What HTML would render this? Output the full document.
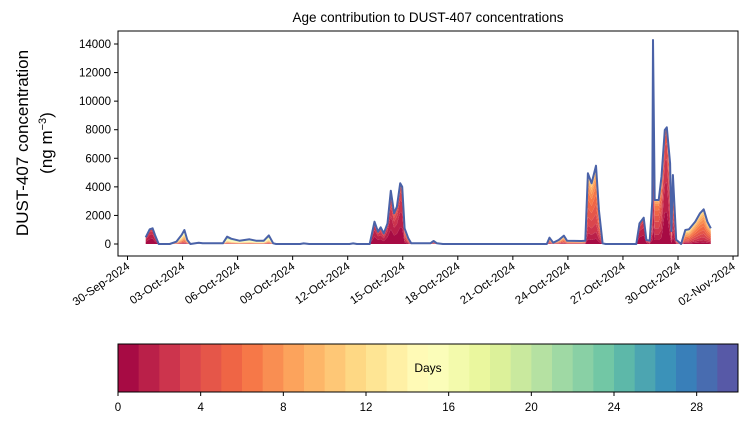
<!DOCTYPE html>
<html><head><meta charset="utf-8"><style>
body{margin:0;background:#fff}
svg{display:block;font-family:"Liberation Sans","DejaVu Sans",sans-serif}
</style></head><body>
<svg id="fig" width="748" height="425" viewBox="0 0 748 425" xmlns="http://www.w3.org/2000/svg">
<text x="428" y="22" text-anchor="middle" font-size="13.5">Age contribution to DUST-407 concentrations</text>
<g id="plot"></g>
<rect x="118" y="31" width="620" height="225" fill="none" stroke="#000" stroke-width="1"/>
<g id="yaxis"></g>
<g id="xaxis"></g>
<text transform="translate(28,143) rotate(-90)" text-anchor="middle" font-size="17">DUST-407 concentration</text>
<text transform="translate(52,143) rotate(-90)" text-anchor="middle" font-size="17">(ng m<tspan baseline-shift="super" font-size="11">−3</tspan>)</text>
<g id="cbar"></g>
</svg>
<script>
const dayTicks=[0,3,6,9,12,15,18,21,24,27,30,33];
const dayTickLabels=["30-Sep-2024","03-Oct-2024","06-Oct-2024","09-Oct-2024","12-Oct-2024","15-Oct-2024","18-Oct-2024","21-Oct-2024","24-Oct-2024","27-Oct-2024","30-Oct-2024","02-Nov-2024"];
const yTicks=[0,2000,4000,6000,8000,10000,12000,14000];
const cbarTicks=[0,4,8,12,16,20,24,28];
const times=[0.99,1.21,1.37,1.5,1.7,2.3,2.66,2.95,3.1,3.26,3.43,3.88,4.1,5.2,5.43,5.65,6.1,6.65,7.0,7.43,7.7,7.94,8.1,9.4,9.6,9.9,12.1,12.3,12.5,13.2,13.46,13.65,13.8,13.97,14.17,14.35,14.53,14.68,14.86,14.97,15.1,15.3,15.46,16.5,16.68,16.86,17.19,22.85,23.0,23.2,23.5,23.78,23.95,24.73,24.95,25.09,25.29,25.53,25.69,25.89,26.06,27.73,27.9,28.13,28.28,28.46,28.6,28.64,28.73,28.95,29.1,29.28,29.39,29.57,29.64,29.72,29.9,30.17,30.4,30.6,30.94,31.2,31.4,31.6,31.79];
const total=[470,1030,1100,630,0,0,160,630,980,280,0,90,50,50,510,370,230,330,230,230,600,50,0,0,40,0,0,40,0,0,1560,860,1170,750,1450,3730,2150,2610,4250,4010,1100,400,50,50,210,50,0,0,440,90,280,580,230,210,230,4950,4250,5480,2380,50,0,0,1450,1840,280,230,3000,14280,3080,3080,4710,7980,8170,5650,900,4830,300,0,980,1030,1560,2150,2430,1560,1100];
const peakAge=[1,1,1,2,2,5,9,9,9,9,9,12,12,12,13,13,13,13,13,13,12,12,12,14,14,14,14,14,14,2,1,1,2,2,1,2,2,2,2,2,3,4,6,6,4,4,4,6,6,6,6,6,6,6,5,4,4,4,4,4,4,2,1,1,2,3,3,3,3,3,3,2,2,3,3,3,4,5,6,6,5,5,5,5,5];

const X0=118,X1=738,Y0=31,Y1=256;
const px=d=>127.5+d*18.35;
const py=v=>244-v*(200/14000);
const NS='http://www.w3.org/2000/svg';
function mk(t,a,p){const e=document.createElementNS(NS,t);for(const k in a)e.setAttribute(k,a[k]);(p||document.getElementById('fig')).appendChild(e);return e;}
const spec=["#9e0142","#d53e4f","#f46d43","#fdae61","#fee08b","#ffffbf","#e6f598","#abdda4","#66c2a5","#3288bd","#5e4fa2"];
function hx(c){return [1,3,5].map(i=>parseInt(c.substr(i,2),16));}
function cmap(t){const s=t*10,i=Math.min(9,Math.floor(s)),f=s-i;const a=hx(spec[i]),b=hx(spec[i+1]);return 'rgb('+a.map((v,j)=>Math.round(v+(b[j]-v)*f)).join(',')+')';}
const N=30,cols=[];for(let k=0;k<N;k++)cols.push(cmap((k+0.5)/N));

const plot=document.getElementById('plot');
const cum=times.map(()=>0);
const shares=times.map((t,i)=>{const mu=peakAge[i],sg=1.5+mu*0.5;const w=[];let s=0;for(let k=0;k<N;k++){const v=Math.exp(-Math.pow((k-mu+(mu<3?mu:0))/sg,2)/2);w.push(v);s+=v;}return w.map(v=>v/s);});
for(let k=0;k<N;k++){
  const lo=cum.slice();
  for(let i=0;i<times.length;i++)cum[i]+=total[i]*shares[i][k];
  let d='M'+times.map((t,i)=>px(t).toFixed(1)+','+py(cum[i]).toFixed(1)).join(' L');
  for(let i=times.length-1;i>=0;i--)d+=' L'+px(times[i]).toFixed(1)+','+py(lo[i]).toFixed(1);
  const p=mk('path',{d:d+'Z',fill:cols[k],stroke:'none'},plot);
  
  
}
const tl=mk('polyline',{points:times.map((t,i)=>px(t).toFixed(1)+','+py(total[i]).toFixed(1)).join(' '),fill:'none',stroke:'#4a62a8','stroke-width':2,'stroke-linejoin':'round'},plot);



const ya=document.getElementById('yaxis');
yTicks.forEach(v=>{const y=py(v);mk('line',{x1:X0-4,x2:X0,y1:y,y2:y,stroke:'#000'},ya);
 const t=mk('text',{x:X0-7,y:y+4,'text-anchor':'end','font-size':11.5},ya);t.textContent=v;
 
 });
const xa=document.getElementById('xaxis');
dayTicks.forEach((d,i)=>{const x=px(d);mk('line',{x1:x,x2:x,y1:Y1,y2:Y1+4,stroke:'#000'},xa);
 const t=mk('text',{transform:'translate('+(x+3)+','+(Y1+12)+') rotate(-35)','text-anchor':'end','font-size':11.5},xa);t.textContent=dayTickLabels[i];
 
 });

const cb=document.getElementById('cbar');
const CX0=118,CX1=738,CY0=344,CY1=392,cw=(CX1-CX0)/N;
for(let k=0;k<N;k++){const r=mk('rect',{x:CX0+k*cw,y:CY0,width:cw+0.5,height:CY1-CY0,fill:cols[k]},cb);
 
 }
mk('rect',{x:CX0,y:CY0,width:CX1-CX0,height:CY1-CY0,fill:'none',stroke:'#000'},cb);
const dl=mk('text',{x:428,y:372,'text-anchor':'middle','font-size':12},cb);dl.textContent='Days';


cbarTicks.forEach(v=>{const x=CX0+v/30*(CX1-CX0);mk('line',{x1:x,x2:x,y1:CY1,y2:CY1+4,stroke:'#000'},cb);
 const t=mk('text',{x:x,y:CY1+19,'text-anchor':'middle','font-size':11.5},cb);t.textContent=v;
 
 });
</script>
</body></html>
